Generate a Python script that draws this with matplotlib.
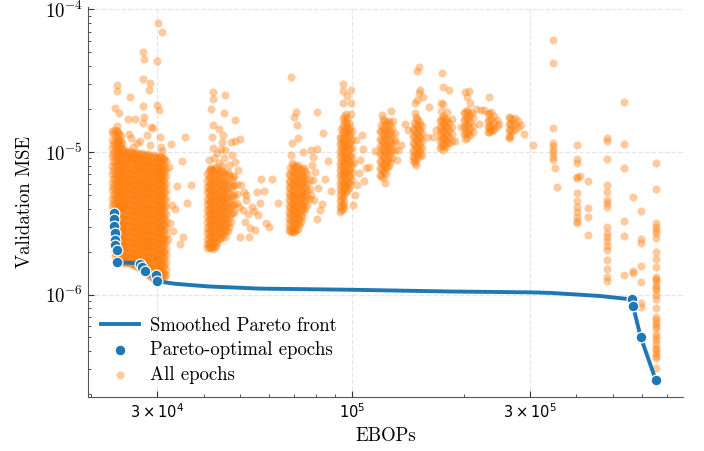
import matplotlib
matplotlib.use("Agg")
import matplotlib.pyplot as plt
from matplotlib.ticker import NullFormatter
import numpy as np

plt.rcParams["font.family"] = "serif"
plt.rcParams["font.serif"] = ["cmr10"]
plt.rcParams["mathtext.fontset"] = "cm"
plt.rcParams["axes.formatter.use_mathtext"] = True

# EBOPs in thousands, MSE in units of 1e-6

# dense groups of epochs: one EBOPs value per column, list of MSE values
core_a_x = [22.7, 23.15, 23.6, 24.0, 24.5, 24.9, 25.4, 25.9, 26.4, 26.9, 27.4, 27.9, 28.4, 28.9, 29.5, 30.0, 30.6, 31.1, 31.7,
            22.9, 23.4, 23.8, 24.25, 24.7, 25.15, 25.65, 26.15, 26.65, 27.15, 27.65, 28.15, 28.65, 29.2, 29.75, 30.3, 30.85, 31.4]
core_a_y = [
    [14.0, 12.2, 10.6, 9.3, 8.0, 7.0, 6.1, 5.4, 4.7, 4.15],
    [14.3, 13.1, 12.0, 11.0, 10.1, 9.2, 8.5, 7.8, 7.1, 6.6, 6.0, 5.5, 5.1, 4.7, 4.3, 3.95, 3.6, 3.3, 3.05, 2.8, 2.55, 2.35, 2.15, 1.98, 1.85],
    [13.7, 12.6, 11.5, 10.5, 9.6, 8.8, 8.1, 7.4, 6.8, 6.3, 5.8, 5.3, 4.9, 4.5, 4.1, 3.8, 3.45, 3.2, 2.9, 2.65, 2.45, 2.25, 2.07, 1.9, 1.78],
    [12.9, 11.8, 10.8, 9.9, 9.0, 8.3, 7.6, 7.0, 6.4, 5.9, 5.4, 5.0, 4.6, 4.2, 3.9, 3.55, 3.25, 3.0, 2.75, 2.52, 2.32, 2.13, 1.96, 1.82, 1.72],
    [10.4, 9.6, 8.7, 8.0, 7.3, 6.7, 6.2, 5.7, 5.2, 4.8, 4.4, 4.05, 3.7, 3.4, 3.1, 2.85, 2.62, 2.4, 2.2, 2.02, 1.86, 1.74, 1.67],
    [9.9, 9.1, 8.4, 7.7, 7.0, 6.5, 5.9, 5.4, 5.0, 4.6, 4.25, 3.9, 3.55, 3.25, 3.0, 2.75, 2.52, 2.32, 2.12, 1.95, 1.8, 1.68],
    [10.2, 9.3, 8.6, 7.9, 7.2, 6.6, 6.1, 5.6, 5.1, 4.7, 4.3, 3.95, 3.65, 3.35, 3.05, 2.8, 2.58, 2.37, 2.18, 2.0, 1.84, 1.7, 1.64],
    [9.7, 8.9, 8.2, 7.5, 6.9, 6.3, 5.8, 5.3, 4.9, 4.5, 4.1, 3.8, 3.5, 3.2, 2.92, 2.68, 2.47, 2.27, 2.08, 1.92, 1.77, 1.65],
    [10.0, 9.2, 8.5, 7.8, 7.1, 6.5, 6.0, 5.5, 5.05, 4.65, 4.25, 3.9, 3.6, 3.3, 3.0, 2.76, 2.53, 2.33, 2.14, 1.97, 1.81, 1.68, 1.6],
    [9.4, 8.6, 7.9, 7.3, 6.7, 6.1, 5.6, 5.2, 4.75, 4.35, 4.0, 3.7, 3.4, 3.1, 2.85, 2.6, 2.4, 2.2, 2.03, 1.87, 1.72, 1.6, 1.53],
    [9.8, 9.0, 8.3, 7.6, 7.0, 6.4, 5.9, 5.4, 4.95, 4.55, 4.2, 3.85, 3.55, 3.25, 2.97, 2.72, 2.5, 2.3, 2.11, 1.94, 1.78, 1.64, 1.52],
    [9.3, 8.5, 7.8, 7.2, 6.6, 6.0, 5.5, 5.05, 4.65, 4.25, 3.9, 3.6, 3.3, 3.02, 2.78, 2.55, 2.34, 2.15, 1.98, 1.82, 1.67, 1.55, 1.47],
    [9.6, 8.8, 8.1, 7.4, 6.8, 6.2, 5.7, 5.25, 4.8, 4.4, 4.05, 3.72, 3.42, 3.14, 2.88, 2.64, 2.42, 2.22, 2.04, 1.87, 1.72, 1.58, 1.46, 1.4],
    [9.2, 8.4, 7.7, 7.1, 6.5, 5.95, 5.45, 5.0, 4.6, 4.2, 3.87, 3.55, 3.26, 3.0, 2.75, 2.52, 2.31, 2.12, 1.95, 1.79, 1.64, 1.51, 1.4, 1.33],
    [9.5, 8.7, 8.0, 7.3, 6.7, 6.15, 5.65, 5.2, 4.75, 4.35, 4.0, 3.67, 3.37, 3.1, 2.84, 2.6, 2.39, 2.19, 2.01, 1.85, 1.69, 1.55, 1.43, 1.33, 1.28],
    [9.0, 8.3, 7.6, 7.0, 6.4, 5.85, 5.35, 4.9, 4.5, 4.12, 3.78, 3.47, 3.18, 2.92, 2.68, 2.46, 2.26, 2.07, 1.9, 1.74, 1.6, 1.47, 1.37],
    [9.4, 8.6, 7.9, 7.2, 6.6, 6.05, 5.55, 5.1, 4.65, 4.27, 3.92, 3.6, 3.3, 3.03, 2.78, 2.55, 2.34, 2.14, 1.97, 1.8, 1.65, 1.51, 1.39, 1.3],
    [9.1, 8.2, 7.5, 6.9, 6.3, 5.75, 5.25, 4.8, 4.4, 4.05, 3.7, 3.4, 3.12, 2.86, 2.62, 2.4, 2.2, 2.02, 1.85, 1.7, 1.56, 1.43, 1.32],
    [8.6, 7.6, 6.8, 6.0, 5.3, 4.7, 4.15, 3.7, 3.3, 2.95, 2.62, 2.35, 2.1, 1.88, 1.68, 1.5, 1.36],
    [13.6, 11.4, 9.9, 8.6, 7.5, 6.5, 5.7, 5.0, 4.4, 3.9],
    [14.0, 12.8, 11.7, 10.7, 9.8, 9.0, 8.2, 7.5, 6.9, 6.3, 5.75, 5.3, 4.85, 4.45, 4.1, 3.75, 3.45, 3.15, 2.9, 2.65, 2.45, 2.25, 2.06, 1.9, 1.8],
    [13.3, 12.2, 11.2, 10.2, 9.3, 8.6, 7.8, 7.2, 6.6, 6.05, 5.55, 5.1, 4.7, 4.3, 3.95, 3.62, 3.32, 3.05, 2.8, 2.57, 2.36, 2.17, 2.0, 1.86, 1.75],
    [11.5, 10.5, 9.6, 8.8, 8.1, 7.4, 6.8, 6.2, 5.7, 5.25, 4.8, 4.4, 4.05, 3.72, 3.42, 3.14, 2.88, 2.64, 2.42, 2.22, 2.04, 1.88, 1.75, 1.69],
    [10.1, 9.3, 8.5, 7.8, 7.15, 6.55, 6.0, 5.5, 5.1, 4.7, 4.3, 3.95, 3.62, 3.32, 3.05, 2.8, 2.57, 2.36, 2.16, 1.98, 1.83, 1.7],
    [10.0, 9.2, 8.45, 7.75, 7.1, 6.5, 6.0, 5.5, 5.05, 4.65, 4.28, 3.92, 3.6, 3.3, 3.02, 2.77, 2.55, 2.34, 2.15, 1.97, 1.82, 1.69],
    [9.9, 9.1, 8.35, 7.65, 7.0, 6.45, 5.95, 5.45, 5.0, 4.6, 4.2, 3.87, 3.57, 3.27, 3.0, 2.74, 2.52, 2.31, 2.12, 1.95, 1.79, 1.66],
    [9.85, 9.05, 8.3, 7.6, 7.0, 6.4, 5.9, 5.4, 4.97, 4.57, 4.18, 3.85, 3.53, 3.23, 2.96, 2.72, 2.5, 2.3, 2.1, 1.94, 1.78, 1.65, 1.58],
    [9.7, 8.9, 8.2, 7.5, 6.9, 6.3, 5.8, 5.35, 4.9, 4.5, 4.12, 3.8, 3.5, 3.2, 2.93, 2.68, 2.46, 2.26, 2.08, 1.91, 1.76, 1.63, 1.56],
    [9.6, 8.8, 8.1, 7.45, 6.85, 6.25, 5.75, 5.3, 4.85, 4.45, 4.1, 3.77, 3.47, 3.17, 2.9, 2.66, 2.45, 2.25, 2.07, 1.9, 1.75, 1.62, 1.55],
    [9.5, 8.75, 8.05, 7.4, 6.8, 6.2, 5.7, 5.22, 4.8, 4.4, 4.05, 3.72, 3.42, 3.13, 2.87, 2.63, 2.42, 2.22, 2.04, 1.88, 1.73, 1.6, 1.5],
    [9.45, 8.65, 7.95, 7.3, 6.7, 6.1, 5.6, 5.15, 4.72, 4.33, 3.98, 3.65, 3.35, 3.07, 2.82, 2.59, 2.38, 2.18, 2.0, 1.84, 1.7, 1.56, 1.45, 1.42],
    [9.4, 8.6, 7.9, 7.25, 6.65, 6.1, 5.6, 5.12, 4.7, 4.3, 3.95, 3.63, 3.33, 3.06, 2.81, 2.58, 2.36, 2.17, 1.99, 1.83, 1.68, 1.54, 1.43, 1.36],
    [9.35, 8.55, 7.85, 7.2, 6.6, 6.05, 5.55, 5.1, 4.67, 4.28, 3.93, 3.6, 3.31, 3.04, 2.79, 2.56, 2.35, 2.15, 1.98, 1.82, 1.66, 1.53, 1.41, 1.31],
    [9.25, 8.5, 7.8, 7.15, 6.55, 6.0, 5.5, 5.05, 4.62, 4.24, 3.88, 3.56, 3.27, 3.0, 2.76, 2.53, 2.32, 2.13, 1.95, 1.79, 1.64, 1.51, 1.4, 1.32],
    [9.2, 8.45, 7.75, 7.1, 6.5, 5.95, 5.45, 5.0, 4.58, 4.2, 3.85, 3.53, 3.24, 2.97, 2.73, 2.5, 2.3, 2.1, 1.93, 1.77, 1.62, 1.49, 1.37, 1.3],
    [9.2, 8.4, 7.7, 7.05, 6.45, 5.9, 5.4, 4.95, 4.52, 4.15, 3.8, 3.5, 3.2, 2.94, 2.7, 2.48, 2.27, 2.08, 1.91, 1.75, 1.6, 1.47, 1.35, 1.29],
    [8.9, 8.0, 7.2, 6.45, 5.8, 5.2, 4.65, 4.2, 3.8, 3.42, 3.08, 2.78, 2.5, 2.25, 2.02, 1.8, 1.6, 1.42, 1.33],
]

core_b_x = [40.9, 41.6, 42.4, 43.2, 44.0, 44.8, 45.6, 46.5, 47.4, 48.3, 49.2,
            41.25, 42.0, 42.8, 43.6, 44.4, 45.2, 46.05, 46.95, 47.85]
core_b_y = [
    [7.0, 6.3, 5.7, 5.2, 4.7, 4.3, 3.9, 3.55, 3.25, 2.95, 2.7, 2.45, 2.25, 2.12],
    [7.6, 6.8, 6.1, 5.5, 5.0, 4.5, 4.1, 3.75, 3.4, 3.1, 2.82, 2.57, 2.35, 2.17],
    [7.3, 6.6, 5.95, 5.35, 4.85, 4.4, 4.0, 3.65, 3.32, 3.02, 2.75, 2.5, 2.28, 2.1],
    [7.8, 7.0, 6.3, 5.65, 5.1, 4.6, 4.2, 3.8, 3.45, 3.15, 2.87, 2.6, 2.38, 2.2],
    [7.1, 6.4, 5.8, 5.25, 4.75, 4.3, 3.92, 3.57, 3.25, 2.96, 2.68, 2.44],
    [7.5, 6.7, 6.0, 5.4, 4.9, 4.45, 4.05, 3.68, 3.35, 3.05, 2.78, 2.52],
    [6.9, 6.1, 5.5, 4.95, 4.5, 4.1, 3.72, 3.38, 3.08, 2.8, 2.55],
    [7.2, 6.2, 5.4, 4.7, 4.1, 3.6, 3.15, 2.8],
    [6.5, 5.6, 4.85, 4.2, 3.7, 3.25],
    [6.8, 5.9, 5.0, 4.35, 3.8],
    [6.0, 5.1, 4.4],
    [7.3, 6.55, 5.9, 5.35, 4.85, 4.4, 4.0, 3.65, 3.32, 3.02, 2.75, 2.5, 2.3, 2.14],
    [7.5, 6.7, 6.05, 5.45, 4.92, 4.45, 4.05, 3.7, 3.36, 3.06, 2.78, 2.53, 2.31, 2.13],
    [7.6, 6.85, 6.15, 5.5, 4.98, 4.5, 4.1, 3.72, 3.38, 3.08, 2.8, 2.55, 2.33, 2.15],
    [7.45, 6.7, 6.05, 5.45, 4.92, 4.45, 4.06, 3.69, 3.35, 3.05, 2.77, 2.52, 2.3],
    [7.3, 6.55, 5.9, 5.32, 4.82, 4.37, 3.98, 3.62, 3.3, 3.0, 2.73, 2.48],
    [7.2, 6.4, 5.75, 5.18, 4.7, 4.27, 3.88, 3.53, 3.21, 2.92, 2.66],
    [7.05, 6.15, 5.45, 4.85, 4.3, 3.85, 3.45, 3.1, 2.78],
    [6.85, 5.9, 5.1, 4.45, 3.9, 3.42, 3.0],
    [6.65, 5.75, 4.92, 4.27, 3.75],
]

core_c_x = [67.8, 69.0, 70.3, 71.7, 73.0, 74.3, 75.8, 77.2, 68.4, 69.65, 71.0, 72.35, 73.65, 75.05]
core_c_y = [
    [7.0, 6.3, 5.7, 5.15, 4.65, 4.2, 3.8, 3.45, 3.12, 2.85],
    [8.4, 7.5, 6.7, 6.0, 5.4, 4.9, 4.4, 3.98, 3.6, 3.27, 2.95, 2.75],
    [7.8, 7.0, 6.3, 5.65, 5.1, 4.6, 4.15, 3.75, 3.4, 3.08, 2.8],
    [8.1, 7.2, 6.5, 5.85, 5.25, 4.75, 4.3, 3.88, 3.5, 3.18, 2.9],
    [7.4, 6.6, 5.9, 5.3, 4.8, 4.35, 3.93, 3.55, 3.22],
    [7.7, 6.8, 6.0, 5.35, 4.8, 4.3, 3.85],
    [7.0, 6.1, 5.4, 4.8, 4.25],
    [6.4, 5.5, 4.7],
    [7.7, 6.9, 6.2, 5.55, 5.0, 4.5, 4.07, 3.68, 3.32, 3.0, 2.78],
    [8.1, 7.25, 6.5, 5.82, 5.25, 4.75, 4.28, 3.87, 3.5, 3.17, 2.87, 2.74],
    [7.95, 7.1, 6.4, 5.75, 5.18, 4.68, 4.22, 3.82, 3.45, 3.13, 2.85],
    [7.75, 6.9, 6.2, 5.57, 5.02, 4.55, 4.12, 3.72, 3.36, 3.05],
    [7.55, 6.7, 5.95, 5.32, 4.8, 4.32, 3.9, 3.52],
    [7.35, 6.45, 5.7, 5.07, 4.52, 4.05],
]

core_d_x = [92.9, 94.6, 96.4, 98.2, 100.0, 93.75, 95.5, 97.3, 99.1]
core_d_y = [
    [12.5, 11.3, 10.2, 9.2, 8.3, 7.5, 6.8, 6.1, 5.5, 5.0, 4.5, 4.1, 3.8],
    [17.0, 15.3, 13.8, 12.4, 11.2, 10.1, 9.1, 8.2, 7.4, 6.7, 6.0, 5.4, 4.85, 4.35, 3.95],
    [18.5, 16.5, 14.8, 13.3, 12.0, 10.8, 9.7, 8.75, 7.9, 7.1, 6.4, 5.75, 5.2],
    [16.0, 14.3, 12.9, 11.6, 10.5, 9.4, 8.5, 7.65, 6.9, 6.2, 5.6],
    [14.0, 12.2, 10.7, 9.4, 8.2, 7.2, 6.4],
    [14.5, 13.0, 11.7, 10.6, 9.6, 8.7, 7.8, 7.05, 6.4, 5.75, 5.2, 4.7, 4.25, 3.9],
    [17.8, 15.9, 14.3, 12.85, 11.6, 10.45, 9.4, 8.5, 7.65, 6.9, 6.2, 5.6, 5.05, 4.55, 4.1],
    [17.2, 15.4, 13.85, 12.45, 11.2, 10.1, 9.1, 8.2, 7.4, 6.65, 6.0, 5.45],
    [15.0, 13.3, 11.8, 10.5, 9.35, 8.35, 7.45, 6.65, 6.0],
]

core_e_x = [118.9, 121.1, 123.4, 125.6, 128.0, 130.4, 120.0, 122.25, 124.5, 126.8]
core_e_y = [
    [14.0, 12.4, 11.0, 9.8, 8.7, 7.7, 6.9],
    [17.0, 15.0, 13.3, 11.8, 10.5, 9.3, 8.3, 7.4, 6.6],
    [15.8, 14.0, 12.4, 11.0, 9.8, 8.7, 7.8, 7.0],
    [16.5, 14.6, 12.9, 11.4, 10.1, 9.0, 8.0],
    [14.8, 13.1, 11.6, 10.3, 9.1],
    [13.5, 11.8, 10.4],
    [15.5, 13.7, 12.1, 10.7, 9.5, 8.5, 7.55, 6.75],
    [16.4, 14.5, 12.8, 11.4, 10.1, 9.0, 8.05, 7.2],
    [16.1, 14.3, 12.65, 11.2, 9.95, 8.85, 7.9],
    [15.6, 13.8, 12.2, 10.8, 9.6, 8.5],
]

core_f_x = [145.8, 148.5, 151.2, 154.1, 147.1, 149.8, 152.6]
core_f_y = [
    [14.5, 13.0, 11.6, 10.4, 9.3, 8.6],
    [17.5, 15.6, 13.9, 12.4, 11.0, 9.8, 8.8, 8.1],
    [16.4, 14.6, 13.0, 11.6, 10.3, 9.2],
    [15.2, 13.5, 12.0, 10.7, 9.5],
    [16.0, 14.2, 12.7, 11.3, 10.0, 9.0],
    [17.0, 15.1, 13.4, 12.0, 10.7, 9.5],
    [15.8, 14.0, 12.5, 11.1, 9.8],
]

core_g_x = [172.2, 175.4, 178.7, 182.0, 185.4, 199.7, 203.4, 207.2, 211.1, 173.8, 177.0, 180.3, 201.5, 205.3]
core_g_y = [
    [16.4, 14.7, 13.2, 11.9, 10.7],
    [17.8, 15.9, 14.2, 12.7, 11.4, 10.4],
    [16.9, 15.1, 13.5, 12.1, 10.9],
    [16.0, 14.3, 12.8, 11.5],
    [15.0, 13.4, 12.0],
    [18.8, 16.8, 15.0, 13.4],
    [19.6, 17.5, 15.6, 13.9, 12.6],
    [18.3, 16.3, 14.6, 13.2],
    [17.2, 15.3, 13.7],
    [17.1, 15.3, 13.7, 12.3, 11.0],
    [17.3, 15.5, 13.8, 12.4, 11.1],
    [16.4, 14.7, 13.1, 11.8],
    [19.2, 17.1, 15.3, 13.6],
    [19.0, 16.9, 15.1, 13.5],
]

core_h_x = [231.6, 235.9, 240.3, 244.8, 263.6, 268.5, 273.5, 278.6, 233.7, 266.0]
core_h_y = [
    [18.5, 16.6, 15.0, 13.8],
    [19.0, 17.0, 15.3, 14.0],
    [17.8, 16.0, 14.5],
    [16.8, 15.2],
    [17.5, 15.8, 14.3, 13.0, 12.5],
    [17.0, 15.4, 14.0],
    [17.3, 15.7, 14.3],
    [16.5, 15.0],
    [18.7, 16.8, 15.1, 13.9],
    [17.2, 15.6, 14.2, 12.8],
]

# high-EBOPs columns of epochs
col_x = [346, 401, 430, 483, 536, 567, 595, 653]
col_y = [
    [61.1, 42.2, 14.8, 11.6, 11.0, 10.3, 9.84, 9.22, 8.79],
    [11.2, 8.93, 8.37, 6.68, 6.58, 5.15, 4.53, 4.11, 3.79, 3.5, 3.28, 3.18],
    [6.26, 4.05, 3.5, 2.62],
    [12.5, 11.9, 8.93, 5.87, 5.24, 4.6, 4.39, 4.11, 2.98, 2.7, 2.54, 2.37, 2.19, 2.05, 1.75, 1.51, 1.33, 1.24],
    [22.4, 11.4, 7.72, 3.28, 2.58, 1.37],
    [4.83, 1.46, 1.42],
    [3.86, 2.45, 2.3, 1.58, 1.22, 0.871, 0.817],
    [8.37, 5.5, 3.18, 2.98, 2.85, 2.7, 2.49, 1.99, 1.77, 1.56, 1.33, 1.28, 1.24, 1.17, 1.12, 1.08,
     1.0, 0.93, 0.804, 0.7, 0.662, 0.631, 0.6, 0.582, 0.528, 0.5, 0.48, 0.45, 0.422, 0.41, 0.388,
     0.37, 0.358, 0.305],
]

# isolated epochs (EBOPs k, MSE 1e-6)
loose_pts = [
    (30.2, 80.4), (30.9, 69.5), (27.5, 50.3), (27.7, 45.0), (30.0, 43.5), (27.5, 32.5),
    (28.7, 30.5), (28.6, 27.2), (23.4, 29.5), (23.4, 26.8), (25.4, 24.3), (27.5, 21.0),
    (30.0, 21.4), (30.4, 19.7), (23.15, 20.4), (23.7, 18.8), (25.1, 17.1), (26.2, 17.1),
    (27.7, 17.6), (27.5, 16.0), (28.9, 15.0), (29.3, 14.8), (23.4, 15.3), (25.2, 13.4),
    (25.6, 12.5), (27.0, 11.9), (26.5, 11.6), (25.9, 10.8), (28.2, 13.2), (28.7, 11.2),
    (32.7, 11.4), (35.7, 12.7), (35.0, 8.65), (33.9, 5.77), (37.0, 5.87), (36.1, 4.39),
    (32.9, 4.25), (33.5, 3.98), (32.5, 3.18), (33.1, 2.79), (35.2, 2.54), (34.6, 2.26),
    (32.1, 2.45), (30.8, 6.79), (30.2, 7.36), (31.1, 8.79), (30.9, 10.2), (30.8, 10.8),
    (30.6, 12.7), (32.3, 7.85),
    (42.4, 26.4), (45.6, 25.1), (42.4, 23.6), (41.9, 20.0), (45.3, 18.8), (48.5, 16.8),
    (42.4, 15.5), (44.0, 14.5), (45.1, 13.2), (42.1, 12.7), (47.4, 11.8), (50.1, 12.3),
    (48.5, 11.9), (44.8, 11.8), (42.4, 10.7), (44.6, 10.5), (45.6, 10.3),
    (41.4, 8.79), (42.7, 9.08), (44.0, 8.37), (45.3, 9.08), (46.8, 8.11), (48.5, 8.5),
    (41.9, 7.72), (44.8, 7.98), (47.7, 9.52), (49.5, 7.48), (43.5, 9.84),
    (50.4, 5.87), (51.3, 5.24), (52.0, 4.6), (51.0, 3.92), (52.6, 3.67), (51.6, 3.23), (53.3, 2.93),
    (57.0, 6.47), (61.0, 6.47), (58.1, 5.32), (55.6, 5.24), (52.0, 4.99), (56.7, 4.39),
    (53.9, 4.11), (49.8, 4.11), (54.6, 3.86), (56.0, 3.61), (63.3, 4.39), (58.8, 3.18),
    (59.9, 2.98), (54.9, 2.84), (53.0, 2.54), (50.1, 2.54),
    (70.8, 19.1), (69.9, 17.6), (71.2, 15.5), (71.7, 12.5), (69.0, 11.6), (68.6, 9.52),
    (73.9, 10.0), (77.6, 10.3), (80.6, 10.5), (78.6, 9.22), (80.6, 19.1), (68.6, 33.6),
    (83.6, 13.6), (86.2, 8.65), (84.7, 6.47), (87.8, 5.32), (83.1, 4.32), (82.1, 3.92),
    (80.6, 3.39), (78.1, 8.11), (79.6, 7.25), (78.6, 6.37), (81.1, 5.59), (77.6, 4.99),
    (79.1, 4.6),
    (94.6, 30.0), (94.6, 26.8), (99.4, 27.2), (97.0, 24.7), (94.6, 22.1), (99.4, 22.1),
    (99.4, 18.5), (105, 8.79), (107, 10.5), (111, 7.85), (109, 7.72), (108, 6.26),
    (103, 5.87), (104.4, 7.13), (101, 8.37), (115, 10.2), (102.5, 12.1), (106.4, 13.2),
    (101.9, 4.99), (100.6, 4.25),
    (120.3, 18.2), (127.2, 19.4), (128.8, 16.5), (138.7, 15.8), (135.3, 11.2), (130.4, 12.1),
    (132.0, 8.79), (132.8, 10.3), (122.6, 6.06),
    (151.2, 39.5), (149.4, 37.0), (152.2, 27.2), (151.2, 25.9), (155.0, 24.3), (149.4, 23.2),
    (147.5, 22.1), (160.8, 20.7), (147.5, 18.8), (158.9, 12.7), (164.9, 12.7), (147.5, 8.37),
    (141.3, 14.3),
    (174.3, 35.8), (175.4, 28.6), (182.0, 27.2), (173.3, 22.1), (175.4, 21.7), (173.3, 19.4),
    (179.8, 19.1), (185.4, 17.1), (188.8, 11.9), (168.0, 14.3),
    (200.9, 26.4), (205.9, 26.8), (203.4, 24.3), (207.2, 22.1), (215.0, 20.1), (221.8, 19.7),
    (209.8, 18.8), (219.0, 15.8), (196.0, 15.0), (200.9, 12.3),
    (233.0, 24.3), (247.8, 15.8), (234.4, 14.5), (238.8, 14.3), (225.9, 19.7),
    (283.9, 15.5), (289.2, 13.4), (305.7, 11.2),
    (350.2, 7.72), (354.5, 5.68), (408, 6.79),
]

# Pareto-optimal epochs
pareto_x = [22.95, 23.0, 23.05, 23.1, 23.15, 23.2, 23.4, 23.5, 27.1, 27.4, 27.8, 29.9, 30.05, 565.5, 567.7, 595.5, 653]
pareto_y = [3.73, 3.37, 3.01, 2.68, 2.41, 2.22, 2.04, 1.68, 1.64, 1.555, 1.46, 1.375, 1.244, 0.927, 0.837, 0.503, 0.251]

# smoothed front
front_x = [23.5, 27.0, 27.9, 30.0, 33.5, 41.1, 56.7, 100, 183, 300, 340, 462, 556, 567, 595, 653]
front_y = [1.68, 1.66, 1.49, 1.24, 1.19, 1.14, 1.10, 1.08, 1.05, 1.036, 1.027, 0.977, 0.927, 0.837, 0.503, 0.251]

all_x, all_y = [], []
for xs, ys in [(core_a_x, core_a_y), (core_b_x, core_b_y), (core_c_x, core_c_y), (core_d_x, core_d_y),
               (core_e_x, core_e_y), (core_f_x, core_f_y), (core_g_x, core_g_y), (core_h_x, core_h_y),
               (col_x, col_y)]:
    for x, col in zip(xs, ys):
        all_x += [x] * len(col)
        all_y += col
all_x += [p[0] for p in loose_pts]
all_y += [p[1] for p in loose_pts]
all_x = np.array(all_x) * 1e3
all_y = np.array(all_y) * 1e-6

fig = plt.figure(figsize=(7.04, 4.51), dpi=100)
ax = fig.add_axes([0.125, 0.1197, 0.845, 0.8648])

ax.scatter(all_x, all_y, s=34, color="#ff7f0e", alpha=0.4, linewidths=0, label="All epochs", zorder=2)
ax.plot(np.array(front_x) * 1e3, np.array(front_y) * 1e-6, color="#1f77b4", lw=2.8,
        label="Smoothed Pareto front", zorder=3)
ax.scatter(np.array(pareto_x) * 1e3, np.array(pareto_y) * 1e-6, s=60, color="#1f77b4",
           edgecolors="white", linewidths=0.9, label="Pareto-optimal epochs", zorder=4)

ax.set_xscale("log")
ax.set_yscale("log")
ax.set_xlim(19.6e3, 772e3)
ax.set_ylim(1.91e-7, 1.04e-4)

ax.set_xticks([3e4, 1e5, 3e5])
ax.set_xticklabels([r"$3\times10^{4}$", r"$10^{5}$", r"$3\times10^{5}$"])
ax.xaxis.set_minor_formatter(NullFormatter())
for t in ax.get_xticklabels():
    t.set_math_fontfamily("dejavusans")
    t.set_fontsize(10.5)
for t in ax.get_yticklabels():
    t.set_fontsize(13.5)

ax.tick_params(which="both", direction="in", top=False, right=False, color="#333333")
ax.tick_params(which="major", length=4)
ax.tick_params(which="minor", length=2)
ax.grid(True, which="major", ls="--", color="#e6e6e6", lw=0.9, zorder=0)
ax.set_axisbelow(True)
for side in ["top", "right"]:
    ax.spines[side].set_visible(False)
for side in ["left", "bottom"]:
    ax.spines[side].set_color("#555555")

ax.set_xlabel("EBOPs", fontsize=13.5, labelpad=5)
ax.set_ylabel("Validation MSE", fontsize=13.5, labelpad=8)

h, l = ax.get_legend_handles_labels()
order = [l.index("Smoothed Pareto front"), l.index("Pareto-optimal epochs"), l.index("All epochs")]
ax.legend([h[i] for i in order], [l[i] for i in order], loc="lower left", frameon=False, fontsize=13.5,
          borderaxespad=0.3, labelspacing=0.35, handletextpad=0.6)

fig.savefig("out.png", dpi=100)
